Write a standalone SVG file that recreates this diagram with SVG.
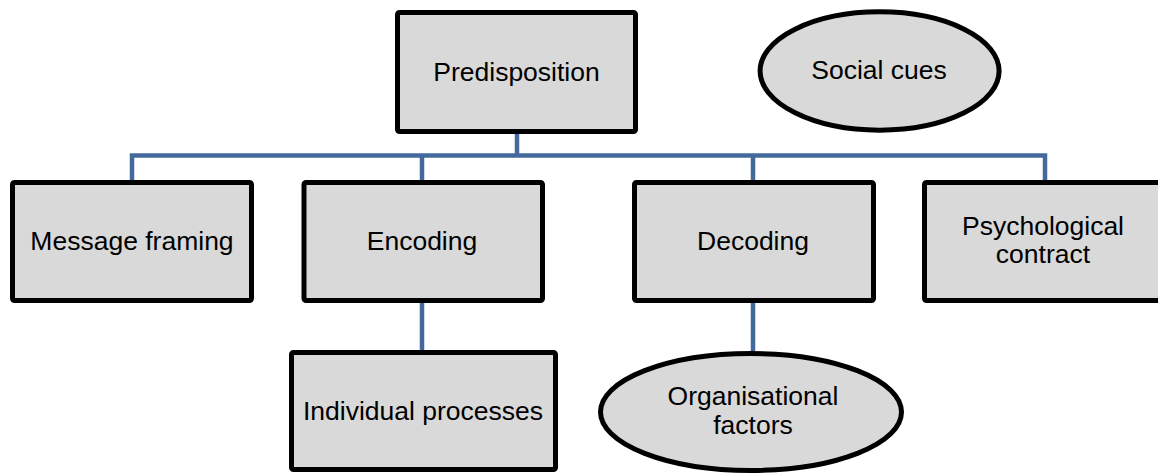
<svg xmlns="http://www.w3.org/2000/svg" width="1158" height="473" viewBox="0 0 1158 473">
<style>
.box{fill:#d9d9d9;stroke:#000;stroke-width:5}
.lbl{font-family:"Liberation Sans",Arial,sans-serif;font-size:26.5px;fill:#000;text-anchor:middle}
.conn{fill:none;stroke:#43699c;stroke-width:4.5}
</style>
<rect width="1158" height="473" fill="#fff"/>
<g id="connectors">
<path class="conn" d="M517 134V155.5M132 180V155.5H1045V180M422 155.5V180M753 155.5V180M422 303V350M753 303V351"/>
</g>
<g id="predisposition">
<rect class="box" x="397.5" y="12.5" width="238" height="119" rx="2"/>
<text class="lbl" x="516.5" y="81">Predisposition</text>
</g>
<g id="social-cues">
<ellipse class="box" cx="879.6" cy="71" rx="119.5" ry="59.2"/>
<text class="lbl" x="879" y="79">Social cues</text>
</g>
<g id="message-framing">
<rect class="box" x="12.5" y="182.5" width="239" height="118" rx="2"/>
<text class="lbl" x="132" y="250">Message framing</text>
</g>
<g id="encoding">
<rect class="box" x="304" y="182.5" width="238.5" height="118" rx="2"/>
<text class="lbl" x="422" y="250">Encoding</text>
</g>
<g id="decoding">
<rect class="box" x="634.5" y="182.5" width="239" height="118" rx="2"/>
<text class="lbl" x="753" y="250">Decoding</text>
</g>
<g id="psychological-contract">
<rect class="box" x="924.5" y="182.5" width="260" height="118" rx="2"/>
<text class="lbl" x="1043" y="235">Psychological</text>
<text class="lbl" x="1043" y="263">contract</text>
</g>
<g id="individual-processes">
<rect class="box" x="291.5" y="352.5" width="264" height="117" rx="2"/>
<text class="lbl" x="423" y="420">Individual processes</text>
</g>
<g id="organisational-factors">
<ellipse class="box" cx="751" cy="412" rx="150.5" ry="58.5"/>
<text class="lbl" x="753" y="405">Organisational</text>
<text class="lbl" x="753" y="434">factors</text>
</g>
</svg>
